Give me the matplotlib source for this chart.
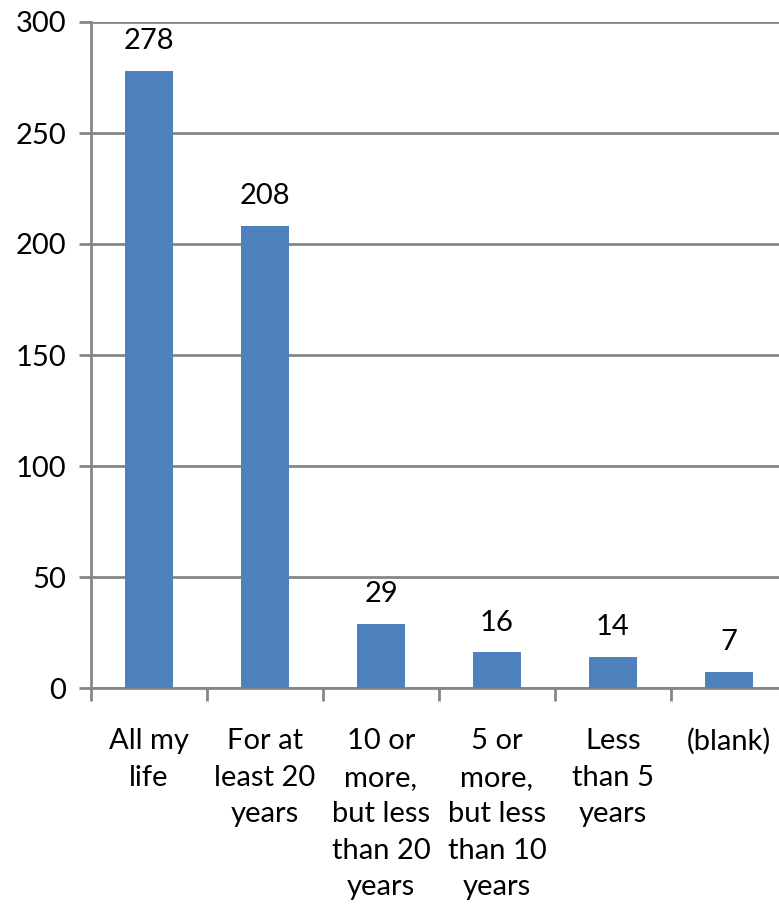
import matplotlib
matplotlib.use("Agg")
import matplotlib.pyplot as plt

categories = ["All my\nlife", "For at\nleast 20\nyears", "10 or\nmore,\nbut less\nthan 20\nyears",
              "5 or\nmore,\nbut less\nthan 10\nyears", "Less\nthan 5\nyears", "(blank)"]
counts = [278, 208, 29, 16, 14, 7]
y_ticks = [0, 50, 100, 150, 200, 250, 300]

plt.rcParams['font.family'] = ['Lato', 'DejaVu Sans']

W, H = 779, 913
fig = plt.figure(figsize=(W / 100, H / 100), dpi=100)
ax = fig.add_axes([91 / W, (H - 688) / H, 696 / W, 666 / H])

grid_col = "#868686"
bar_col = "#4F81BD"
fs = 21

x = list(range(len(categories)))
ax.bar(x, counts, width=0.41, color=bar_col, zorder=3)

for xi, v in zip(x, counts):
    ax.text(xi, v + 13.5, str(v), ha="center", va="center", fontsize=fs, color="black", zorder=4)

ax.set_xlim(-0.5, len(categories) - 0.5)
ax.set_ylim(0, 300)
ax.set_yticks(y_ticks)
ax.set_yticklabels([str(t) for t in y_ticks], fontsize=fs)
ax.yaxis.grid(True, color=grid_col, linewidth=2, zorder=0)
ax.set_axisbelow(True)

# category labels centered, ticks at category boundaries
ax.set_xticks(x)
ax.set_xticklabels(categories, fontsize=fs, linespacing=1.5, va="top")
ax.tick_params(axis="x", which="major", length=0, pad=29)
ax.set_xticks([i - 0.5 for i in range(len(categories) + 1)], minor=True)
ax.tick_params(axis="x", which="minor", length=9, width=2, color=grid_col)
ax.tick_params(axis="y", length=9, width=2, color=grid_col, pad=9)

for s in ["top", "right"]:
    ax.spines[s].set_visible(False)
for s in ["left", "bottom"]:
    ax.spines[s].set_color(grid_col)
    ax.spines[s].set_linewidth(2)

fig.savefig("out.png", dpi=100)
